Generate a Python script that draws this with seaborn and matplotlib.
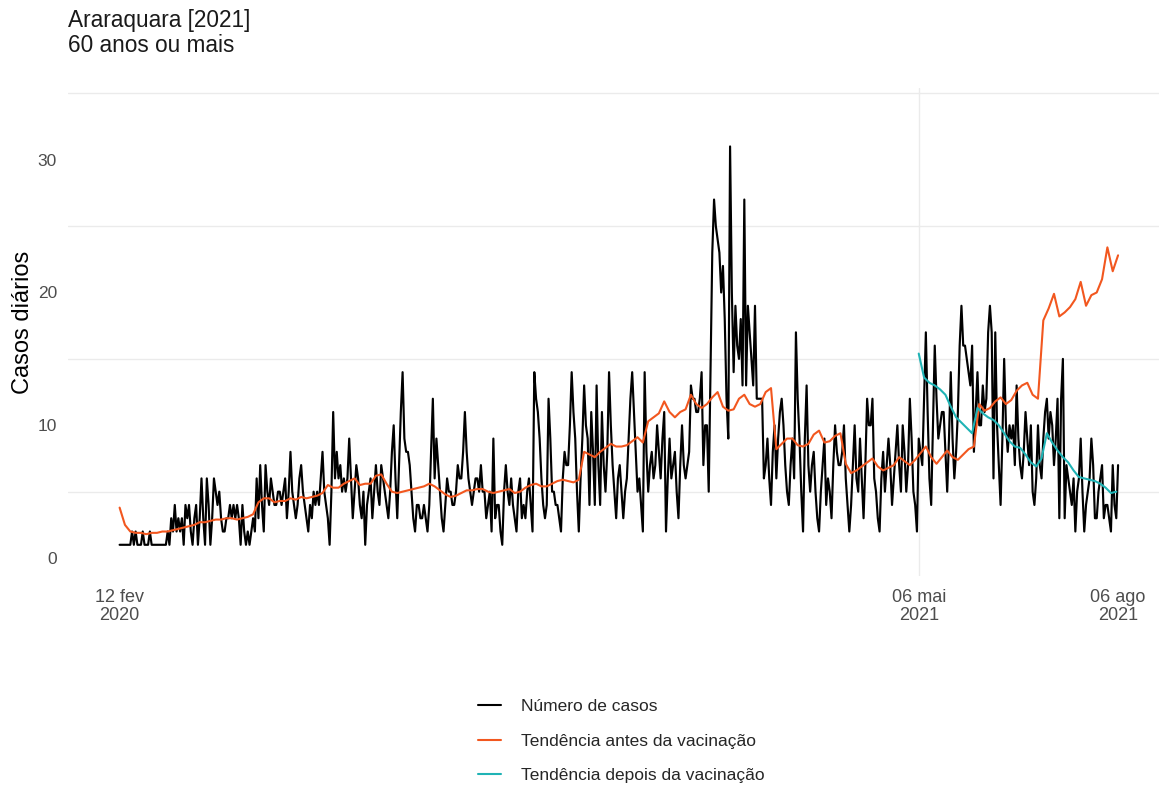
import numpy as np
import pandas as pd
import matplotlib
matplotlib.use("Agg")
import matplotlib.pyplot as plt
import seaborn as sns
from matplotlib.lines import Line2D

# ---------------- data ----------------
# daily number of cases (index = day number from 12 fev 2020)
casos = [
    1,1,1,1,1,1,1,2,1,2,
    1,1,1,2,1,1,1,2,1,1,
    1,1,1,1,1,1,1,2,1,3,
    2,4,2,3,2,3,1,4,3,4,
    2,1,3,4,1,3,6,3,1,6,
    4,1,3,6,5,4,5,3,2,2,
    3,3,4,3,4,3,4,3,1,4,
    2,1,2,1,2,3,2,6,3,7,
    4,2,7,5,4,6,5,4,4,5,
    5,4,5,6,3,5,8,5,4,3,
    4,6,7,5,4,3,2,4,3,5,
    4,5,4,6,8,5,4,3,1,5,
    11,6,8,6,7,5,6,5,6,9,
    6,3,5,7,6,4,3,5,1,4,
    5,6,3,5,7,5,4,7,6,5,
    4,3,5,8,10,6,3,7,11,14,
    9,8,8,7,5,3,2,4,4,3,
    3,4,3,2,4,8,12,6,9,7,
    5,3,2,4,6,5,5,4,4,5,
    7,6,6,8,11,8,6,5,4,5,
    6,6,5,7,5,5,3,4,5,2,
    9,3,4,4,2,1,5,7,5,4,
    6,4,3,2,5,6,3,4,3,5,
    6,4,2,14,12,11,9,6,4,3,
    4,12,9,5,5,4,4,3,2,6,
    8,7,7,10,14,11,9,5,2,6,
    9,13,10,9,4,11,8,4,13,7,
    4,11,7,5,8,14,10,7,5,3,
    6,7,5,3,5,6,9,12,14,11,
    8,5,6,4,2,14,8,5,7,8,
    6,7,10,8,6,9,11,2,6,9,
    6,7,8,5,3,7,10,7,6,7,
    8,13,12,12,11,11,12,14,7,10,
    10,5,14,23,27,25,24,23,20,22,
    18,12,9,31,20,14,19,16,15,18,
    13,27,13,19,17,15,13,19,12,12,
    12,12,6,7,9,6,4,8,10,6,
    9,11,12,10,7,5,4,7,9,6,
    17,12,9,5,2,9,13,7,5,7,
    8,5,3,2,5,7,9,4,6,5,
    3,7,10,8,7,7,8,10,6,4,
    2,4,7,10,6,5,9,6,3,7,
    12,10,10,12,6,5,3,2,6,8,
    5,7,9,7,4,6,8,10,7,5,
    10,8,5,7,12,9,5,4,2,9,
    8,7,12,17,11,6,4,10,16,12,
    9,10,11,11,8,5,9,14,9,6,
    8,11,16,19,16,16,15,14,13,16,
    8,11,14,10,10,13,11,12,17,19,
    17,6,17,10,7,4,9,15,10,8,
    10,9,10,7,13,9,7,6,8,11,
    9,7,10,5,4,6,10,7,6,9,
    11,12,9,11,10,7,9,12,3,12,
    15,3,7,6,5,4,6,2,5,6,
    9,5,2,4,5,6,9,7,3,3,
    5,6,7,3,4,4,3,2,7,4,
    3,7,
]
dias = list(range(len(casos)))

# trend before vaccination (every 3rd day from day 0)
antes_dias = list(range(0, 562, 3))
antes = [
    3.8,2.5,2.0,1.9,1.9,1.8,1.9,1.9,2.0,2.0,
    2.1,2.2,2.3,2.4,2.5,2.7,2.7,2.8,2.9,2.9,
    3.0,3.0,2.9,3.0,3.1,3.3,4.2,4.5,4.5,4.2,
    4.3,4.3,4.5,4.4,4.6,4.5,4.6,4.7,4.9,5.5,
    5.3,5.3,5.6,5.8,6.0,5.5,5.6,5.6,6.2,6.3,
    5.6,5.0,4.9,5.0,5.1,5.2,5.3,5.4,5.6,5.4,
    5.1,4.8,4.6,4.7,4.9,5.1,5.1,5.2,5.2,5.0,
    4.9,5.0,5.1,5.2,4.9,5.0,5.3,5.5,5.6,5.4,
    5.4,5.6,5.8,5.9,5.8,5.7,5.9,8.0,7.8,7.6,
    8.0,8.3,8.6,8.4,8.4,8.5,8.8,9.1,8.7,10.3,
    10.6,10.9,11.8,11.0,10.6,11.0,11.2,12.3,11.6,11.3,
    11.6,12.1,12.5,11.4,11.1,11.2,12.0,12.3,11.6,11.4,
    11.6,12.5,12.8,8.2,8.6,9.0,9.0,8.5,8.4,8.6,
    9.3,9.6,8.7,8.8,9.2,9.4,7.1,6.4,6.6,6.9,
    7.2,7.5,6.9,6.6,6.8,7.0,7.6,7.3,7.0,7.4,
    7.9,8.4,7.6,7.1,7.6,8.1,7.6,7.4,7.8,8.2,
    8.4,11.6,11.1,11.3,11.8,12.1,11.6,11.9,12.6,13.0,
    13.2,12.3,12.0,17.9,18.8,19.9,18.2,18.5,18.9,19.5,
    20.8,19.0,19.8,20.0,21.0,23.4,21.6,22.8,
]

# trend after vaccination (every 3rd day from 06 mai 2021)
depois_dias = list(range(449, 562, 3))
depois = [
    15.4,13.6,13.2,13.0,12.7,12.3,11.4,10.6,10.2,9.8,
    9.4,11.3,10.9,10.6,10.4,10.0,9.4,8.8,8.4,8.3,
    7.8,7.2,6.9,7.5,9.4,8.7,8.1,7.6,7.2,6.6,
    6.1,6.0,5.9,5.8,5.6,5.3,4.9,5.0,
]

tick_dias = [0, 449, 561]
tick_labels = ["12 fev\n2020", "06 mai\n2021", "06 ago\n2021"]
y_ticks = [0, 10, 20, 30]
y_grid = [5, 15, 25, 35]

series_names = ["Número de casos", "Tendência antes da vacinação",
                "Tendência depois da vacinação"]
colors = ["#000000", "#F2571F", "#1FB3B5"]

# ---------------- plot ----------------
sns.set_theme(style="white")
plt.rcParams["font.family"] = ["Liberation Sans", "DejaVu Sans"]

fig = plt.figure(figsize=(11.59, 7.85), dpi=100)
ax = fig.add_axes([68/1159, 1-576/785, 1091/1159, 488/785])

df_c = pd.DataFrame({"dia": dias, "valor": casos})
df_a = pd.DataFrame({"dia": antes_dias, "valor": antes})
df_d = pd.DataFrame({"dia": depois_dias, "valor": depois})

# grid
for g in y_grid:
    ax.axhline(g, color="#EBEBEB", lw=1.0, zorder=0)
ax.axvline(tick_dias[1], color="#EBEBEB", lw=1.0, zorder=0)

sns.lineplot(data=df_c, x="dia", y="valor", ax=ax, color=colors[0], lw=1.55, zorder=3)
sns.lineplot(data=df_a, x="dia", y="valor", ax=ax, color=colors[1], lw=1.5, zorder=4)
sns.lineplot(data=df_d, x="dia", y="valor", ax=ax, color=colors[2], lw=1.5, zorder=5)

ax.set_xlim(-29, 584)
ax.set_ylim(-1.35, 35.4)
ax.set_xticks(tick_dias)
ax.set_xticklabels(tick_labels, fontsize=13, color="#4D4D4D", linespacing=1.1)
ax.set_yticks(y_ticks)
ax.set_yticklabels([str(v) for v in y_ticks], fontsize=12.5, color="#4D4D4D")
ax.tick_params(axis="both", length=0)
ax.tick_params(axis="x", pad=9)
ax.tick_params(axis="y", pad=8)
ax.grid(False)
for s in ax.spines.values():
    s.set_visible(False)
ax.set_xlabel("")
ax.set_ylabel("Casos diários", fontsize=17, color="#000000", labelpad=2)
ax.yaxis.set_label_coords(-0.031, 0.52)

fig.text(68/1159, 1-9/785, "Araraquara [2021]\n60 anos ou mais",
         ha="left", va="top", fontsize=16.3, color="#1A1A1A", linespacing=1.12)

handles = [Line2D([0], [0], color=c, lw=1.5) for c in colors]
fig.legend(handles, series_names, loc="center", bbox_to_anchor=(0.536, 0.056),
           frameon=False, fontsize=12.5, handlelength=1.3, handletextpad=1.15,
           labelspacing=1.12, ncol=1)

fig.savefig("out.png", dpi=100)
